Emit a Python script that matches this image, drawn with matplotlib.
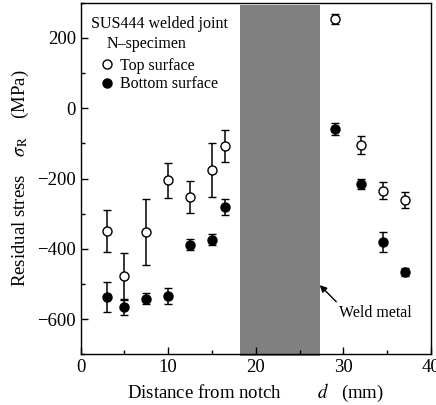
import numpy as np
import matplotlib
matplotlib.use('Agg')
import matplotlib.pyplot as plt
from matplotlib.lines import Line2D
from matplotlib.ticker import MultipleLocator

plt.rcParams['font.family'] = ['Liberation Serif', 'DejaVu Serif']
plt.rcParams['mathtext.fontset'] = 'stix'

# top surface
d_top = [3, 5, 7.5, 10, 12.5, 15, 16.5, 29, 32, 34.5, 37]
s_top = [-350, -477, -352, -205, -253, -175, -108, 255, -105, -235, -261]
e_top = [60, 65, 93, 50, 45, 77, 46, 14, 26, 24, 23]

# bottom surface
d_bot = [3, 5, 7.5, 10, 12.5, 15, 16.5, 29, 32, 34.5, 37]
s_bot = [-537, -566, -542, -534, -388, -374, -281, -59, -215, -381, -465]
e_bot = [43, 21, 16, 23, 16, 15, 22, 18, 15, 28, 11]

weld = [18.2, 27.3]

fig = plt.figure(figsize=(4.36, 4.05), dpi=100)
ax = fig.add_axes([0.185, 0.125, 0.8035, 0.868])

ax.axvspan(weld[0], weld[1], ymin=-0.006, ymax=0.994, color='#808080', lw=0, clip_on=False, zorder=1)

ax.errorbar(d_top, s_top, yerr=e_top, fmt='o', ms=6.5, mfc='white', mec='black', mew=1.0,
            ecolor='black', elinewidth=1.1, capsize=3, capthick=1.1, zorder=3)
ax.errorbar(d_bot, s_bot, yerr=e_bot, fmt='o', ms=6.5, mfc='black', mec='black', mew=1.0,
            ecolor='black', elinewidth=1.1, capsize=3, capthick=1.1, zorder=3)

ax.set_xlim(0, 40)
ax.set_ylim(-700, 300)
ax.xaxis.set_major_locator(MultipleLocator(10))
ax.xaxis.set_minor_locator(MultipleLocator(5))
ax.yaxis.set_major_locator(MultipleLocator(200))
ax.yaxis.set_minor_locator(MultipleLocator(100))
ax.tick_params(which='both', direction='in', top=False, right=False, labelsize=13.5)
ax.tick_params(which='major', length=5, width=1)
ax.tick_params(which='minor', length=3, width=1)
ax.set_yticks([-600, -400, -200, 0, 200])
ax.set_yticklabels(['\u2212600', '\u2212400', '\u2212200', '0', '200'])
for s in ax.spines.values():
    s.set_linewidth(1.0)

ax.set_xlabel('Distance from notch        $d$   (mm)', fontsize=13.5, labelpad=4)
ax.set_ylabel('Residual stress    $\\sigma_{\\rm R}$    (MPa)', fontsize=13.5, labelpad=4)

ax.text(0.226, 0.941, 'SUS444 welded joint', transform=ax.transAxes, ha='center', va='center', fontsize=11.5)
ax.text(0.189, 0.884, 'N\u2013specimen', transform=ax.transAxes, ha='center', va='center', fontsize=11.5)

handles = [Line2D([], [], ls='none', marker='o', ms=6.5, mfc='white', mec='black'),
           Line2D([], [], ls='none', marker='o', ms=6.5, mfc='black', mec='black')]
ax.legend(handles, ['Top surface', 'Bottom surface'], loc='upper left',
          bbox_to_anchor=(0.057, 0.8436), frameon=False, fontsize=11.5,
          handlelength=0.8, handletextpad=0.4, borderpad=0, borderaxespad=0,
          labelspacing=0.15)

ax.annotate('Weld metal', xy=(27.3, -503), xytext=(29.5, -581), fontsize=11.5,
            ha='left', va='center',
            arrowprops=dict(arrowstyle='-|>', color='black', lw=1, shrinkA=0, shrinkB=0,
                            mutation_scale=10, relpos=(0, 1)))

fig.savefig('out.png', dpi=100)
